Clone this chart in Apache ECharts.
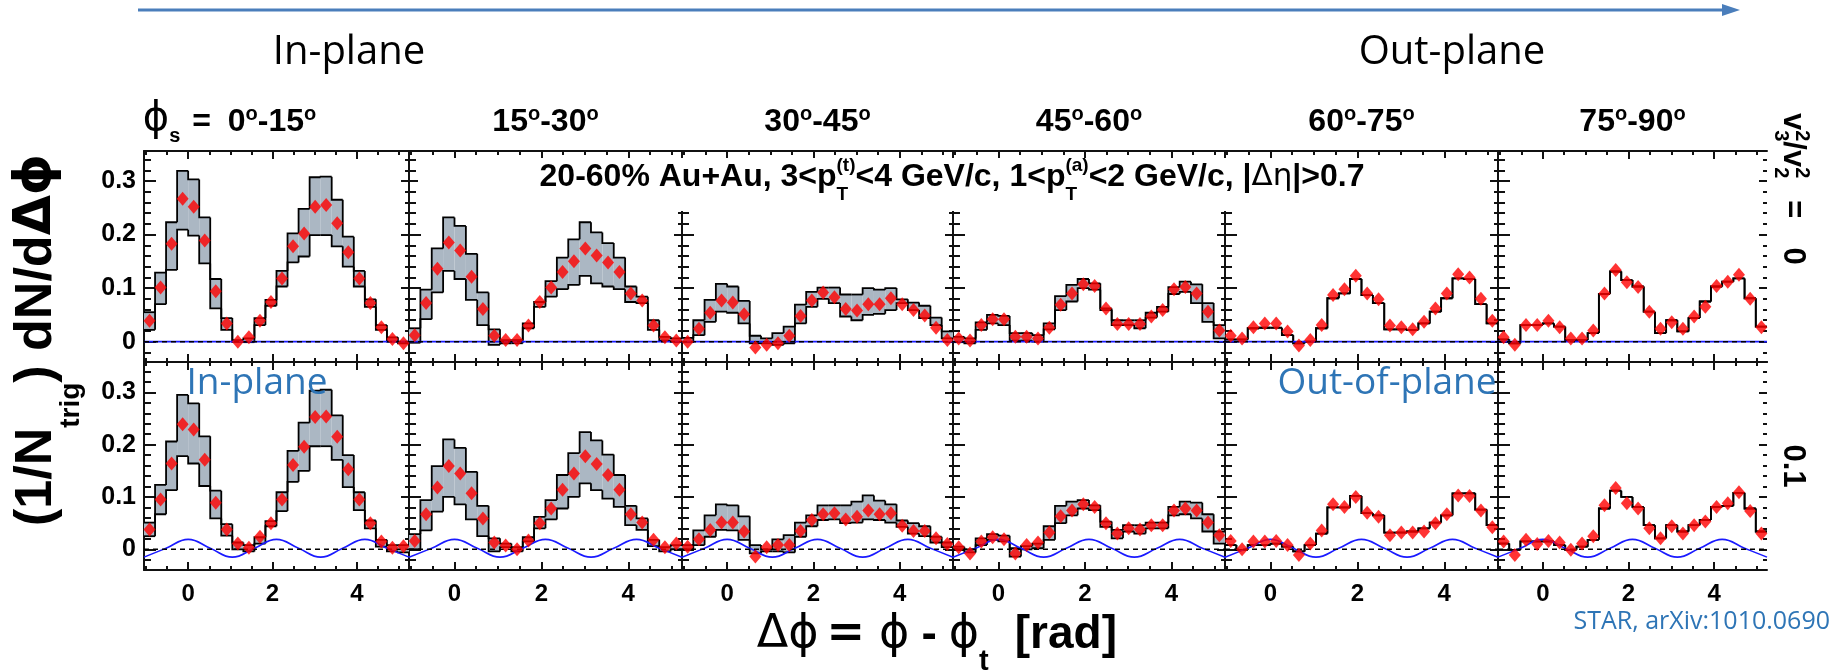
<!DOCTYPE html>
<html>
<head>
<meta charset="utf-8">
<script src="https://cdn.jsdelivr.net/npm/echarts@6/dist/echarts.min.js"></script>
<style>
  html, body { margin: 0; padding: 0; background: #fff; }
  #chart { width: 1835px; height: 671px; }
</style>
</head>
<body>
<div id="chart"></div>
<script>
// ---------------------------------------------------------------------------
// Di-hadron correlations vs. trigger angle from the event plane (phi_s bins),
// 20-60% Au+Au. Top row: v3^2/v2^2 = 0, bottom row: v3^2/v2^2 = 0.1.
// ---------------------------------------------------------------------------

// phi_s slices (degrees), one panel column each
const PHI_S_LO = ['0', '15', '30', '45', '60', '75'];
const PHI_S_HI = ['15', '30', '45', '60', '75', '90'];
const V3V2_VALUES = ['0', '0.1'];

// delta-phi bin centres (rad), 24 bins of pi/12
const DPHI = [-0.916, -0.654, -0.393, -0.131, 0.131, 0.393, 0.654, 0.916,
  1.178, 1.440, 1.702, 1.963, 2.225, 2.487, 2.749, 3.011,
  3.272, 3.534, 3.796, 4.058, 4.320, 4.581, 4.843, 5.105];

// axis ticks
const X_MAJOR = [0, 2, 4];
const X_MINOR = [-1, -0.5, 0.5, 1, 1.5, 2.5, 3, 3.5, 4.5, 5];
const Y_MAJOR = [0, 0.1, 0.2, 0.3];
const Y_MINOR = [-0.02, 0.02, 0.04, 0.06, 0.08, 0.12, 0.14, 0.16, 0.18,
  0.22, 0.24, 0.26, 0.28, 0.32, 0.34];

// v3 flow modulation drawn in the v3^2/v2^2 = 0.1 row
const V3_DPHI = [-1.047, -0.524, 0, 0.524, 1.047, 1.571, 2.094, 2.618, 3.142, 3.665, 4.189, 4.712, 5.236];
const V3_MOD = [-0.015, 0.002, 0.019, 0.002, -0.015, 0.002, 0.019, 0.002, -0.015, 0.002, 0.019, 0.002, -0.015];

// ---- v3^2/v2^2 = 0 : data points and systematic band (upper / lower) ----
const POINTS_V0 = [
  [0.039, 0.101, 0.183, 0.267, 0.252, 0.189, 0.094, 0.034, 0.000, 0.008, 0.039, 0.074, 0.118, 0.178, 0.202, 0.252, 0.255, 0.221, 0.167, 0.118, 0.072, 0.027, 0.005, -0.003],
  [0.012, 0.072, 0.136, 0.185, 0.170, 0.121, 0.061, 0.011, 0.003, 0.003, 0.030, 0.074, 0.101, 0.130, 0.150, 0.174, 0.161, 0.148, 0.130, 0.090, 0.077, 0.030, 0.008, 0.002],
  [0.000, 0.024, 0.054, 0.077, 0.073, 0.051, -0.011, -0.006, -0.003, 0.011, 0.048, 0.077, 0.092, 0.083, 0.061, 0.058, 0.070, 0.070, 0.081, 0.070, 0.059, 0.049, 0.026, 0.003],
  [0.006, 0.002, 0.031, 0.042, 0.042, 0.009, 0.009, 0.006, 0.026, 0.069, 0.090, 0.107, 0.104, 0.062, 0.033, 0.033, 0.033, 0.047, 0.059, 0.098, 0.102, 0.090, 0.056, 0.021],
  [0.011, 0.006, 0.027, 0.034, 0.034, 0.019, -0.007, 0.003, 0.031, 0.087, 0.098, 0.123, 0.090, 0.079, 0.030, 0.027, 0.023, 0.037, 0.062, 0.090, 0.126, 0.120, 0.080, 0.039],
  [0.008, -0.006, 0.031, 0.031, 0.039, 0.027, 0.006, 0.006, 0.021, 0.090, 0.134, 0.111, 0.102, 0.056, 0.024, 0.036, 0.024, 0.047, 0.065, 0.104, 0.112, 0.125, 0.080, 0.027]
];
const SYS_60_75_V0 = [0.004, 0.004, 0.025, 0.026, 0.026, 0.012, -0.003, 0.000, 0.025, 0.081, 0.090, 0.117, 0.087, 0.072, 0.023, 0.023, 0.022, 0.034, 0.056, 0.081, 0.118, 0.117, 0.070, 0.034];
const SYS_75_90_V0 = [0.004, -0.003, 0.031, 0.031, 0.034, 0.028, 0.003, 0.003, 0.016, 0.089, 0.131, 0.115, 0.103, 0.056, 0.016, 0.040, 0.019, 0.044, 0.075, 0.103, 0.112, 0.118, 0.081, 0.028];
const SYS_HI_V0 = [
  [0.055, 0.129, 0.223, 0.319, 0.303, 0.232, 0.117, 0.044, 0.003, 0.006, 0.044, 0.078, 0.132, 0.202, 0.248, 0.307, 0.308, 0.265, 0.196, 0.132, 0.079, 0.031, 0.008, 0.000],
  [0.025, 0.097, 0.174, 0.232, 0.216, 0.164, 0.092, 0.023, 0.003, 0.003, 0.034, 0.074, 0.113, 0.157, 0.191, 0.223, 0.204, 0.184, 0.157, 0.103, 0.084, 0.040, 0.009, 0.006],
  [0.007, 0.040, 0.078, 0.108, 0.103, 0.076, 0.011, 0.006, 0.016, 0.028, 0.069, 0.093, 0.101, 0.101, 0.088, 0.088, 0.100, 0.097, 0.100, 0.079, 0.073, 0.067, 0.045, 0.019],
  [0.009, 0.006, 0.036, 0.050, 0.048, 0.016, 0.016, 0.012, 0.034, 0.085, 0.106, 0.117, 0.109, 0.062, 0.040, 0.040, 0.040, 0.054, 0.065, 0.102, 0.112, 0.107, 0.072, 0.031],
  SYS_60_75_V0,
  SYS_75_90_V0
];
const SYS_LO_V0 = [
  [0.022, 0.070, 0.134, 0.209, 0.198, 0.146, 0.062, 0.022, -0.001, -0.001, 0.031, 0.067, 0.103, 0.148, 0.159, 0.199, 0.199, 0.178, 0.140, 0.103, 0.065, 0.022, 0.000, -0.003],
  [-0.002, 0.042, 0.092, 0.132, 0.117, 0.078, 0.031, -0.006, -0.003, -0.003, 0.025, 0.065, 0.084, 0.098, 0.106, 0.123, 0.109, 0.103, 0.098, 0.074, 0.072, 0.022, 0.002, 0.000],
  [-0.001, 0.012, 0.037, 0.056, 0.054, 0.034, -0.003, -0.003, -0.006, -0.003, 0.034, 0.065, 0.080, 0.072, 0.047, 0.040, 0.050, 0.052, 0.059, 0.072, 0.059, 0.044, 0.031, 0.006],
  [-0.001, -0.003, 0.022, 0.034, 0.031, 0.002, 0.002, 0.000, 0.023, 0.059, 0.075, 0.100, 0.097, 0.059, 0.031, 0.031, 0.025, 0.045, 0.056, 0.089, 0.093, 0.072, 0.037, 0.006],
  SYS_60_75_V0,
  SYS_75_90_V0
];

// ---- v3^2/v2^2 = 0.1 ----
const POINTS_V01 = [
  [0.038, 0.095, 0.164, 0.239, 0.229, 0.171, 0.089, 0.038, 0.011, 0.003, 0.024, 0.050, 0.095, 0.161, 0.196, 0.253, 0.254, 0.215, 0.153, 0.095, 0.050, 0.015, 0.003, 0.006],
  [0.016, 0.067, 0.118, 0.159, 0.145, 0.107, 0.059, 0.013, 0.007, 0.000, 0.017, 0.050, 0.078, 0.114, 0.145, 0.178, 0.163, 0.142, 0.114, 0.067, 0.051, 0.018, 0.004, 0.011],
  [0.005, 0.019, 0.037, 0.051, 0.051, 0.034, -0.014, 0.004, 0.008, 0.008, 0.035, 0.056, 0.067, 0.069, 0.057, 0.062, 0.074, 0.067, 0.069, 0.045, 0.035, 0.035, 0.021, 0.010],
  [0.004, -0.008, 0.015, 0.023, 0.019, -0.008, 0.008, 0.013, 0.032, 0.063, 0.074, 0.086, 0.081, 0.050, 0.030, 0.040, 0.038, 0.046, 0.046, 0.074, 0.078, 0.074, 0.051, 0.027],
  [0.016, 0.000, 0.015, 0.015, 0.016, 0.008, -0.011, 0.011, 0.036, 0.086, 0.081, 0.100, 0.070, 0.062, 0.027, 0.032, 0.032, 0.034, 0.050, 0.067, 0.103, 0.102, 0.074, 0.042],
  [0.015, -0.011, 0.018, 0.010, 0.016, 0.013, -0.001, 0.011, 0.025, 0.084, 0.117, 0.088, 0.078, 0.040, 0.021, 0.044, 0.030, 0.046, 0.053, 0.081, 0.088, 0.109, 0.073, 0.030]
];
const SYS_60_75_V01 = [0.008, -0.001, 0.008, 0.008, 0.011, 0.005, -0.004, 0.008, 0.030, 0.080, 0.080, 0.102, 0.069, 0.065, 0.032, 0.032, 0.034, 0.040, 0.051, 0.065, 0.107, 0.107, 0.076, 0.046];
const SYS_75_90_V01 = [0.011, -0.001, 0.015, 0.015, 0.015, 0.008, -0.001, 0.005, 0.018, 0.078, 0.112, 0.100, 0.081, 0.046, 0.021, 0.046, 0.034, 0.046, 0.056, 0.081, 0.083, 0.108, 0.078, 0.034];
const SYS_HI_V01 = [
  [0.051, 0.123, 0.206, 0.295, 0.279, 0.216, 0.112, 0.048, 0.013, 0.008, 0.023, 0.054, 0.109, 0.188, 0.242, 0.303, 0.305, 0.256, 0.180, 0.109, 0.055, 0.018, 0.008, 0.008],
  [0.029, 0.094, 0.159, 0.210, 0.194, 0.148, 0.083, 0.021, 0.011, 0.004, 0.023, 0.062, 0.094, 0.142, 0.184, 0.224, 0.208, 0.181, 0.142, 0.083, 0.059, 0.018, 0.004, 0.008],
  [0.008, 0.036, 0.065, 0.086, 0.084, 0.063, 0.008, 0.000, 0.019, 0.027, 0.051, 0.065, 0.084, 0.084, 0.084, 0.091, 0.103, 0.093, 0.086, 0.055, 0.050, 0.044, 0.024, 0.013],
  [0.005, 0.000, 0.021, 0.029, 0.026, 0.002, 0.006, 0.011, 0.044, 0.083, 0.091, 0.094, 0.084, 0.053, 0.037, 0.046, 0.046, 0.051, 0.051, 0.081, 0.091, 0.089, 0.067, 0.034],
  SYS_60_75_V01,
  SYS_75_90_V01
];
const SYS_LO_V01 = [
  [0.025, 0.067, 0.113, 0.178, 0.164, 0.121, 0.059, 0.026, 0.000, -0.004, 0.011, 0.044, 0.073, 0.129, 0.150, 0.197, 0.197, 0.171, 0.119, 0.075, 0.040, 0.005, -0.004, -0.006],
  [0.000, 0.036, 0.072, 0.100, 0.086, 0.057, 0.025, -0.004, 0.004, -0.004, 0.015, 0.040, 0.057, 0.078, 0.100, 0.126, 0.113, 0.097, 0.081, 0.046, 0.037, 0.006, -0.004, 0.000],
  [0.000, 0.008, 0.024, 0.037, 0.036, 0.018, -0.008, -0.004, -0.004, -0.006, 0.024, 0.044, 0.056, 0.057, 0.050, 0.051, 0.057, 0.056, 0.051, 0.043, 0.030, 0.025, 0.013, 0.004],
  [0.000, -0.006, 0.008, 0.018, 0.015, -0.014, 0.000, 0.002, 0.018, 0.050, 0.065, 0.078, 0.075, 0.043, 0.021, 0.034, 0.030, 0.040, 0.040, 0.065, 0.067, 0.059, 0.034, 0.011],
  SYS_60_75_V01,
  SYS_75_90_V01
];

// ---------------------------------------------------------------------------
// layout and styles
// ---------------------------------------------------------------------------
const X_RANGE = [-Math.PI / 3, 5 * Math.PI / 3];
const COLS = [[144, 265], [409, 273], [682, 271], [953, 272], [1225, 273], [1498, 269]];
const ROWS = [
  { top: 151, height: 211, min: -0.038, max: 0.356, pts: POINTS_V0, hi: SYS_HI_V0, lo: SYS_LO_V0 },
  { top: 362, height: 208, min: -0.0396, max: 0.358, pts: POINTS_V01, hi: SYS_HI_V01, lo: SYS_LO_V01 }
];
const FONT_BOLD = '"Liberation Sans", Arial, Helvetica, sans-serif';
const FONT_SYM = '"DejaVu Sans", sans-serif';
const FONT_NOTE = '"Open Sans", sans-serif';
const NOTE_BLUE = '#2e75b6';
const ARROW_BLUE = '#4a7ebb';
const BAND_FILL = '#abb7c3';
const AXIS_BLACK = '#111';
const BIN_HALF = (DPHI[1] - DPHI[0]) / 2;

// ---------------------------------------------------------------------------
// axes
// ---------------------------------------------------------------------------
function xAxisDef(gridIndex, position, ticks, len, showLine, showLabels) {
  return {
    type: 'value', gridIndex, position, min: X_RANGE[0], max: X_RANGE[1],
    axisLine: { show: showLine, onZero: false, lineStyle: { color: AXIS_BLACK, width: 2 } },
    axisTick: { show: true, inside: true, length: len, customValues: ticks, lineStyle: { color: AXIS_BLACK, width: 2 } },
    axisLabel: {
      show: showLabels, customValues: ticks, margin: 12, color: '#000',
      fontFamily: FONT_BOLD, fontWeight: 'bold', fontSize: 24
    },
    splitLine: { show: false }, minorTick: { show: false }, splitArea: { show: false }
  };
}
function yAxisDef(gridIndex, position, ticks, len, showLine, showLabels, row) {
  return {
    type: 'value', gridIndex, position, min: row.min, max: row.max,
    axisLine: { show: showLine, onZero: false, lineStyle: { color: AXIS_BLACK, width: 2 } },
    axisTick: { show: true, inside: true, length: len, customValues: ticks, lineStyle: { color: AXIS_BLACK, width: 2 } },
    axisLabel: {
      show: showLabels, customValues: ticks, margin: 8, color: '#000',
      fontFamily: FONT_BOLD, fontWeight: 'bold', fontSize: 25,
      formatter: v => (Math.abs(v) < 1e-9 ? '0' : String(+v.toFixed(2)))
    },
    splitLine: { show: false }, minorTick: { show: false }, splitArea: { show: false }
  };
}

// systematic band: grey fill between lower and upper histogram
function renderBandFill(params, api) {
  const x = api.value(0), lo = api.value(1), hi = api.value(2);
  if (!(hi > lo)) return null;
  const a = api.coord([x - BIN_HALF, hi]);
  const b = api.coord([x + BIN_HALF, lo]);
  return { type: 'rect', shape: { x: a[0], y: a[1], width: b[0] - a[0], height: b[1] - a[1] },
    style: { fill: BAND_FILL } };
}
// step outlines of the band edges
function renderBandEdges(params, api) {
  const x = api.value(0), lo = api.value(1), hi = api.value(2), plo = api.value(3), phi = api.value(4);
  const xl = api.coord([x - BIN_HALF, 0])[0];
  const xr = api.coord([x + BIN_HALF, 0])[0];
  const y = v => api.coord([x, v])[1];
  const st = { stroke: '#000', lineWidth: 1.8, fill: null };
  return {
    type: 'group', children: [
      { type: 'polyline', shape: { points: [[xl, y(phi)], [xl, y(hi)], [xr, y(hi)]] }, style: st },
      { type: 'polyline', shape: { points: [[xl, y(plo)], [xl, y(lo)], [xr, y(lo)]] }, style: st }
    ]
  };
}

const grids = [], xAxes = [], yAxes = [], series = [];
ROWS.forEach((row, r) => {
  COLS.forEach(([left, width], c) => {
    const g = grids.length;
    grids.push({ left, top: row.top, width, height: row.height, containLabel: false });
    const xi = xAxes.length, yi = yAxes.length;
    const lastCol = c === COLS.length - 1;
    const bottomRow = r === ROWS.length - 1;
    xAxes.push(xAxisDef(g, 'bottom', X_MAJOR, 8, true, bottomRow));
    xAxes.push(xAxisDef(g, 'bottom', X_MINOR, 4, false, false));
    xAxes.push(xAxisDef(g, 'top', X_MAJOR, 8, true, false));
    xAxes.push(xAxisDef(g, 'top', X_MINOR, 4, false, false));
    yAxes.push(yAxisDef(g, 'left', Y_MAJOR, 12, true, c === 0, row));
    yAxes.push(yAxisDef(g, 'left', Y_MINOR, 7, false, false, row));
    yAxes.push(yAxisDef(g, 'right', Y_MAJOR, 8, !lastCol, false, row));
    yAxes.push(yAxisDef(g, 'right', Y_MINOR, 4, false, false, row));

    const pts = row.pts[c], hi = row.hi[c], lo = row.lo[c];
    const band = DPHI.map((x, i) => [x, lo[i], hi[i], lo[i > 0 ? i - 1 : i], hi[i > 0 ? i - 1 : i]]);
    series.push({
      type: 'custom', xAxisIndex: xi, yAxisIndex: yi, data: band, renderItem: renderBandFill,
      encode: { x: 0, y: [1, 2] }, z: 2, silent: true, animation: false, clip: true
    });
    series.push({
      type: 'custom', xAxisIndex: xi, yAxisIndex: yi, data: band, renderItem: renderBandEdges,
      encode: { x: 0, y: [1, 2] }, z: 3, silent: true, animation: false, clip: true
    });
    // v3 modulation (flat for v3^2/v2^2 = 0)
    series.push({
      type: 'line', xAxisIndex: xi, yAxisIndex: yi,
      data: r === 0 ? [[X_RANGE[0], 0], [X_RANGE[1], 0]] : V3_DPHI.map((x, i) => [x, V3_MOD[i]]),
      smooth: r === 0 ? false : 0.45, symbol: 'none', silent: true, animation: false,
      lineStyle: { color: '#1a1aff', width: 1.6 }, z: 4
    });
    // zero reference
    series.push({
      type: 'line', xAxisIndex: xi, yAxisIndex: yi, data: [[X_RANGE[0], 0], [X_RANGE[1], 0]],
      symbol: 'none', silent: true, animation: false,
      lineStyle: { color: '#000', width: 1.5, type: [5, 4] }, z: 5
    });
    series.push({
      type: 'scatter', xAxisIndex: xi, yAxisIndex: yi,
      data: DPHI.map((x, i) => [x, pts[i]]),
      symbol: 'diamond', symbolSize: [12, 14], itemStyle: { color: '#ff0000' },
      silent: true, animation: false, z: 6
    });
  });
});

// ---------------------------------------------------------------------------
// text built from pieces (sub/superscripts), measured on a scratch canvas
// ---------------------------------------------------------------------------
const mctx = document.createElement('canvas').getContext('2d');
function fontOf(p) { return `${p.weight || 'bold'} ${p.size}px ${p.family || FONT_BOLD}`; }
function widthOf(p) { mctx.font = fontOf(p); return mctx.measureText(p.t).width; }
function midOffset(p) { return (p.family === FONT_NOTE ? 0.388 : 0.347) * p.size; }
function textRun(pieces, color, z) {
  let x = 0;
  const els = [];
  const put = (p, px) => els.push({
    type: 'text', x: px, y: -(p.rise || 0) - midOffset(p), z,
    style: { text: p.t, font: fontOf(p), fill: color, align: 'left', verticalAlign: 'middle' }
  });
  pieces.forEach(p => {
    x += p.lead || 0;
    if (p.stack) {
      let w = 0;
      p.stack.forEach(s => { put(s, x); w = Math.max(w, widthOf(s)); });
      x += w;
    } else {
      put(p, x);
      x += widthOf(p);
    }
  });
  return { els, width: x };
}
function textGroup(pieces, o) {
  const run = textRun(pieces, o.color || '#000', o.z || 60);
  const off = o.anchor === 'center' ? -run.width / 2 : o.anchor === 'right' ? -run.width : 0;
  run.els.forEach(e => { e.x += off; });
  return { type: 'group', x: o.x, y: o.y, rotation: o.rotation || 0, children: run.els };
}

const DEG = size => ({ t: 'o', size, rise: Math.round(size * 0.6) });
const graphic = [];

// direction arrow across the top
graphic.push({ type: 'line', shape: { x1: 138, y1: 10, x2: 1724, y2: 10 }, style: { stroke: ARROW_BLUE, lineWidth: 3 }, z: 60 });
graphic.push({ type: 'polygon', shape: { points: [[1722, 4], [1740, 10], [1722, 16]] }, style: { fill: ARROW_BLUE }, z: 60 });
graphic.push(textGroup([{ t: 'In-plane', size: 40, weight: 'normal', family: FONT_NOTE }], { x: 349, y: 68, anchor: 'center' }));
graphic.push(textGroup([{ t: 'Out-plane', size: 40, weight: 'normal', family: FONT_NOTE }], { x: 1452, y: 68, anchor: 'center' }));

// phi_s titles over each column
COLS.forEach(([left, width], c) => {
  const deg = [{ t: PHI_S_LO[c], size: 32 }, DEG(20), { t: '-' + PHI_S_HI[c], size: 32 }, DEG(20)];
  if (c === 0) {
    graphic.push(textGroup([
      { t: '\u03D5', size: 40, weight: 'normal', family: FONT_SYM },
      { t: 's', size: 20, rise: -10 },
      { t: '=', size: 32, lead: 12 }
    ], { x: 211, y: 133, anchor: 'right' }));
    graphic.push(textGroup(deg, { x: 272, y: 133, anchor: 'center' }));
  } else {
    graphic.push(textGroup(deg, { x: left + width / 2, y: 133, anchor: 'center' }));
  }
});

// kinematic selection label on a white box
graphic.push({ type: 'rect', shape: { x: 418, y: 158, width: 1072, height: 53 }, style: { fill: '#fff' }, z: 55 });
graphic.push(textGroup([
  { t: '20-60% Au+Au, 3<p', size: 32 },
  { stack: [{ t: '(t)', size: 19, rise: 16 }, { t: 'T', size: 19, rise: -13 }] },
  { t: '<4 GeV/c, 1<p', size: 32 },
  { stack: [{ t: '(a)', size: 19, rise: 16 }, { t: 'T', size: 19, rise: -13 }] },
  { t: '<2 GeV/c, |', size: 32 },
  { t: '\u0394\u03B7', size: 31, weight: 'normal', family: FONT_SYM },
  { t: '|>0.7', size: 32 }
], { x: 952, y: 188, anchor: 'center' }));

// y-axis title
graphic.push(textGroup([
  { t: '(1/N', size: 52 },
  { t: 'trig', size: 28, rise: -26 },
  { t: ') dN/d', size: 52 },
  { t: '\u0394\u03D5', size: 52, family: FONT_SYM }
], { x: 55, y: 526, rotation: Math.PI / 2 }));

// x-axis title
graphic.push(textGroup([
  { t: '\u0394\u03D5', size: 46, weight: 'normal', family: FONT_SYM },
  { t: '=', size: 46, family: FONT_SYM, lead: 8 },
  { t: '\u03D5', size: 46, weight: 'normal', family: FONT_SYM, lead: 14 },
  { t: '-', size: 46, lead: 12 },
  { t: '\u03D5', size: 46, weight: 'normal', family: FONT_SYM, lead: 12 },
  { t: 't', size: 29, rise: -21 },
  { t: '[rad]', size: 46, lead: 26 }
], { x: 1117, y: 651, anchor: 'right' }));

// v3^2/v2^2 labels on the right
graphic.push(textGroup([
  { t: 'v', size: 31 },
  { stack: [{ t: '2', size: 20, rise: 13 }, { t: '3', size: 20, rise: -8 }] },
  { t: '/v', size: 31 },
  { stack: [{ t: '2', size: 20, rise: 13 }, { t: '2', size: 20, rise: -8 }] },
  { t: '=', size: 31, lead: 22 },
  { t: V3V2_VALUES[0], size: 31, lead: 29 }
], { x: 1782, y: 113, rotation: -Math.PI / 2 }));
graphic.push(textGroup([{ t: V3V2_VALUES[1], size: 31 }], { x: 1782, y: 466, rotation: -Math.PI / 2, anchor: 'center' }));

// annotations
graphic.push(textGroup([{ t: 'In-plane', size: 37, weight: 'normal', family: FONT_NOTE }], { x: 257, y: 398, anchor: 'center', color: NOTE_BLUE }));
graphic.push(textGroup([{ t: 'Out-of-plane', size: 37, weight: 'normal', family: FONT_NOTE }], { x: 1387, y: 398, anchor: 'center', color: NOTE_BLUE }));
graphic.push(textGroup([{ t: 'STAR, arXiv:1010.0690', size: 25, weight: 'normal', family: FONT_NOTE }], { x: 1830, y: 632, anchor: 'right', color: NOTE_BLUE }));

const chart = echarts.init(document.getElementById('chart'), null, { renderer: 'canvas' });
chart.setOption({
  animation: false,
  backgroundColor: '#fff',
  grid: grids,
  xAxis: xAxes,
  yAxis: yAxes,
  series,
  graphic: { elements: graphic }
});
</script>
</body>
</html>
